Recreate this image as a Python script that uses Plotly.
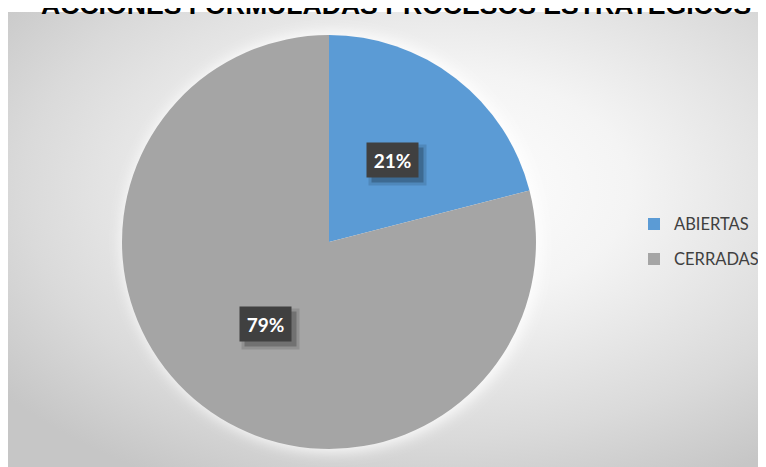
import base64
import math
import plotly.graph_objects as go

# ---------------- data ----------------
title_text = "ACCIONES FORMULADAS PROCESOS ESTRATÉGICOS"
categories = ["ABIERTAS", "CERRADAS"]
values = [21, 79]
slice_colors = ["#5B9BD5", "#A5A5A5"]

W, H = 766, 467

# pie domain (paper coords)
dom_x = [0.1488, 0.6893]
dom_y = [0.0557, 0.9422]

# ---------------- background (radial gradient + soft glow) ----------------
bg_w, bg_h = 766, 463
svg = f"""<svg xmlns='http://www.w3.org/2000/svg' width='{bg_w}' height='{bg_h}' viewBox='0 0 {bg_w} {bg_h}'>
<defs>
<radialGradient id='g' cx='0.56' cy='0.38' r='0.72' gradientUnits='objectBoundingBox'>
<stop offset='0' stop-color='#ffffff'/>
<stop offset='0.35' stop-color='#f4f4f4'/>
<stop offset='0.75' stop-color='#dadada'/>
<stop offset='1' stop-color='#c6c6c6'/>
</radialGradient>
<filter id='b' x='-20%' y='-20%' width='140%' height='140%'><feGaussianBlur stdDeviation='7'/></filter>
</defs>
<rect width='{bg_w}' height='{bg_h}' fill='url(#g)'/>
<circle cx='324' cy='230' r='210' fill='#ffffff' fill-opacity='0.85' filter='url(#b)'/>
</svg>"""
bg_uri = "data:image/svg+xml;base64," + base64.b64encode(svg.encode()).decode()

fig = go.Figure()
fig.add_trace(go.Pie(
    labels=[f"<span style='font-size:16.5px;baseline-shift:4px'>{c}</span>" for c in categories],
    values=values,
    marker=dict(colors=slice_colors, line=dict(width=0)),
    sort=False,
    direction="clockwise",
    rotation=0,
    textinfo="none",
    domain=dict(x=dom_x, y=dom_y),
    hovertemplate="%{label}<br>%{percent}<extra></extra>",
))

# ---------------- data labels (computed from values) ----------------
R = min((dom_x[1] - dom_x[0]) * W, (dom_y[1] - dom_y[0]) * H) / 2
cx = (dom_x[0] + dom_x[1]) / 2
cy = (dom_y[0] + dom_y[1]) / 2
total = sum(values)
cum = 0
annotations = []
for v in values:
    mid = (cum + v / 2) / total * 2 * math.pi
    cum += v
    ax = cx + 0.5 * R * math.sin(mid) / W
    ay = cy + 0.5 * R * math.cos(mid) / H
    txt = f"{round(100 * v / total)}%"
    common = dict(x=ax, y=ay, xref="paper", yref="paper", showarrow=False,
                  xanchor="center", yanchor="middle", borderpad=0)
    # soft shadow
    annotations.append(dict(
        common, text=txt,
        font=dict(family="Lato", size=18, color="rgba(0,0,0,0)"),
        bgcolor="rgba(0,0,0,0.12)", width=57, height=40,
        xshift=5, yshift=-5,
    ))
    annotations.append(dict(
        common, text=txt,
        font=dict(family="Lato", size=18, color="rgba(0,0,0,0)"),
        bgcolor="rgba(0,0,0,0.22)", width=51, height=34,
        xshift=5, yshift=-5,
    ))
    annotations.append(dict(
        common, text=f"<b>{txt}</b>",
        font=dict(family="Lato", size=19, color="#ffffff"),
        bgcolor="#404040", width=51, height=34,
    ))

# title (partly above the top edge, as in the reference)
annotations.append(dict(
    x=388 / W, y=1 + 3.2 / H, xref="paper", yref="paper",
    xanchor="center", yanchor="middle", showarrow=False,
    text=f"<b>{title_text}</b>",
    font=dict(family="Liberation Sans, Arial", size=26.6, color="#000000"),
))

fig.update_layout(
    width=W, height=H,
    margin=dict(l=0, r=0, t=0, b=0),
    paper_bgcolor="#ffffff",
    plot_bgcolor="rgba(0,0,0,0)",
    showlegend=True,
    legend=dict(
        x=626 / W, xanchor="left",
        y=1 - 233.5 / H, yanchor="middle",
        font=dict(family="Lato", size=24.6, color="#404040"),
        bgcolor="rgba(0,0,0,0)",
    ),
    annotations=annotations,
    images=[dict(
        source=bg_uri, xref="paper", yref="paper",
        x=0, y=1 - 4 / H, sizex=1, sizey=1 - 4 / H,
        xanchor="left", yanchor="top", sizing="stretch", layer="below",
    )],
)

fig.write_html("out.html")
